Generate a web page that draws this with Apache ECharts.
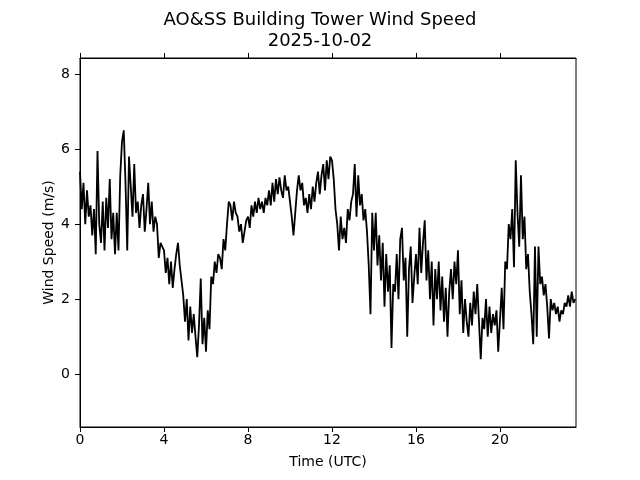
<!DOCTYPE html>
<html><head><meta charset="utf-8">
<script src="https://cdn.jsdelivr.net/npm/echarts@6/dist/echarts.min.js"></script>
<style>html,body{margin:0;padding:0;background:#fff}#c{width:640px;height:480px}</style>
</head><body><div id="c"></div>
<script>
const titleText = "AO&SS Building Tower Wind Speed\n2025-10-02";
const xLabel = "Time (UTC)";
const yLabel = "Wind Speed (m/s)";
const xTicks = [0, 4, 8, 12, 16, 20];
const yTicks = [0, 2, 4, 6, 8];
const stepMinutes = 5;
const windSpeed = [
  // 00
  5.4, 4.4, 5.1, 4.0, 4.9, 4.2, 4.5, 3.7, 4.4, 3.2, 5.95, 4.0,
  // 01
  3.5, 4.6, 3.3, 4.7, 3.9, 5.2, 3.6, 4.3, 3.2, 4.3, 3.3, 5.3,
  // 02
  6.2, 6.5, 5.1, 3.3, 5.8, 5.0, 4.2, 5.6, 4.3, 4.6, 3.9, 4.5,
  // 03
  4.8, 3.8, 4.4, 5.1, 4.0, 4.6, 3.8, 4.2, 4.0, 3.1, 3.5, 3.4,
  // 04
  3.3, 2.7, 3.1, 2.4, 3.0, 2.3, 2.8, 3.2, 3.5, 2.9, 2.5, 2.1,
  // 05
  1.4, 2.0, 0.9, 1.8, 1.1, 1.6, 1.0, 0.45, 1.3, 2.55, 0.8, 1.5,
  // 06
  0.6, 1.7, 1.2, 2.6, 2.4, 3.0, 2.7, 3.2, 3.1, 2.8, 3.6, 3.3,
  // 07
  4.0, 4.6, 4.5, 4.1, 4.6, 4.3, 4.2, 3.8, 4.0, 3.5, 3.8, 4.1,
  // 08
  4.2, 3.9, 4.5, 4.2, 4.6, 4.3, 4.7, 4.4, 4.6, 4.3, 4.7, 4.5,
  // 09
  4.9, 4.5, 5.1, 4.6, 5.2, 4.8, 5.25, 4.9, 4.7, 5.3, 4.9, 5.0,
  // 10
  4.6, 4.2, 3.7, 4.3, 4.9, 5.3, 4.9, 5.1, 4.5, 4.7, 4.3, 4.8,
  // 11
  4.4, 5.0, 4.6, 5.1, 5.4, 4.8, 5.3, 5.6, 4.9, 5.7, 5.2, 5.8,
  // 12
  5.7, 5.2, 4.4, 4.0, 3.3, 4.2, 3.6, 3.9, 3.5, 4.4, 4.1, 4.6,
  // 13
  4.8, 5.6, 4.2, 5.3, 4.5, 4.8, 4.1, 4.4, 3.8, 2.9, 1.6, 4.3,
  // 14
  3.3, 4.3, 2.9, 3.7, 2.5, 3.5, 1.8, 3.2, 2.2, 2.9, 0.7, 2.4,
  // 15
  2.2, 3.2, 2.0, 3.6, 3.9, 2.5, 3.1, 1.0, 2.8, 3.4, 1.9, 2.6,
  // 16
  3.2, 2.4, 3.9, 2.7, 3.5, 4.1, 2.5, 3.3, 2.0, 3.0, 1.3, 2.8,
  // 17
  2.0, 3.0, 1.7, 2.6, 1.4, 2.3, 1.0, 2.2, 2.8, 2.0, 3.0, 2.4,
  // 18
  3.3, 1.6, 2.5, 1.1, 2.0, 1.4, 1.0, 1.9, 1.3, 2.2, 1.6, 2.4,
  // 19
  1.4, 0.4, 1.5, 1.2, 2.0, 1.0, 1.8, 1.1, 1.6, 1.3, 1.7, 0.6,
  // 20
  0.55, 2.3, 1.2, 3.0, 2.8, 4.0, 3.6, 4.4, 2.85, 5.7, 4.3, 3.4,
  // 21
  5.3, 3.6, 4.2, 2.8, 3.2, 2.2, 1.6, 0.8, 3.4, 1.0, 3.4, 2.4,
  // 22
  2.6, 2.1, 2.4, 1.8, 0.95, 2.0, 1.7, 1.9, 1.6, 1.8, 1.4, 1.7,
  // 23
  1.6, 1.9, 1.8, 2.1, 1.8, 2.2, 1.9, 2.0
];
const xMin = 0, xMax = 23.62, yMin = -1.41, yMax = 8.43;

const seriesData = windSpeed.map((v, i) => [i * stepMinutes / 60, v]);
const font = "DejaVu Sans";

const chart = echarts.init(document.getElementById('c'), null, {renderer: 'canvas'});
chart.setOption({
  animation: false,
  backgroundColor: '#fff',
  title: {
    text: titleText, left: 'center', top: 5,
    textStyle: {fontFamily: font, fontSize: 18, fontWeight: 'normal', color: '#000', lineHeight: 21}
  },
  grid: {left: 80, right: 64, top: 58, bottom: 53, show: true, borderColor: '#000', borderWidth: 1, backgroundColor: 'transparent'},
  xAxis: [{
    type: 'value', min: xMin, max: xMax, position: 'bottom',
    name: xLabel, nameLocation: 'middle', nameGap: 28,
    nameTextStyle: {fontFamily: font, fontSize: 14, color: '#000'},
    axisLine: {show: true, onZero: false, lineStyle: {color: '#000', width: 1}},
    axisTick: {show: true, inside: false, length: 5, lineStyle: {color: '#000'}, customValues: xTicks},
    axisLabel: {fontFamily: font, fontSize: 14, color: '#000', margin: 6, customValues: xTicks},
    splitLine: {show: false}
  }, {
    type: 'value', min: xMin, max: xMax, position: 'top',
    axisLine: {show: true, onZero: false, lineStyle: {color: '#000', width: 1}},
    axisTick: {show: true, inside: false, length: 5, lineStyle: {color: '#000'}, customValues: xTicks},
    axisLabel: {show: false},
    splitLine: {show: false}
  }],
  yAxis: {
    type: 'value', min: yMin, max: yMax,
    name: yLabel, nameLocation: 'middle', nameGap: 24, nameRotate: 90, nameMoveOverlap: false,
    nameTextStyle: {fontFamily: font, fontSize: 14, color: '#000'},
    axisLine: {show: true, onZero: false, lineStyle: {color: '#000', width: 1}},
    axisTick: {show: true, inside: false, length: 5, lineStyle: {color: '#000'}, customValues: yTicks},
    axisLabel: {fontFamily: font, fontSize: 14, color: '#000', margin: 10, customValues: yTicks},
    splitLine: {show: false}
  },
  series: [{
    type: 'line', xAxisIndex: 0, data: seriesData, showSymbol: false, symbol: 'none',
    lineStyle: {color: '#000', width: 1.8}, clip: true
  }]
});
</script></body></html>
